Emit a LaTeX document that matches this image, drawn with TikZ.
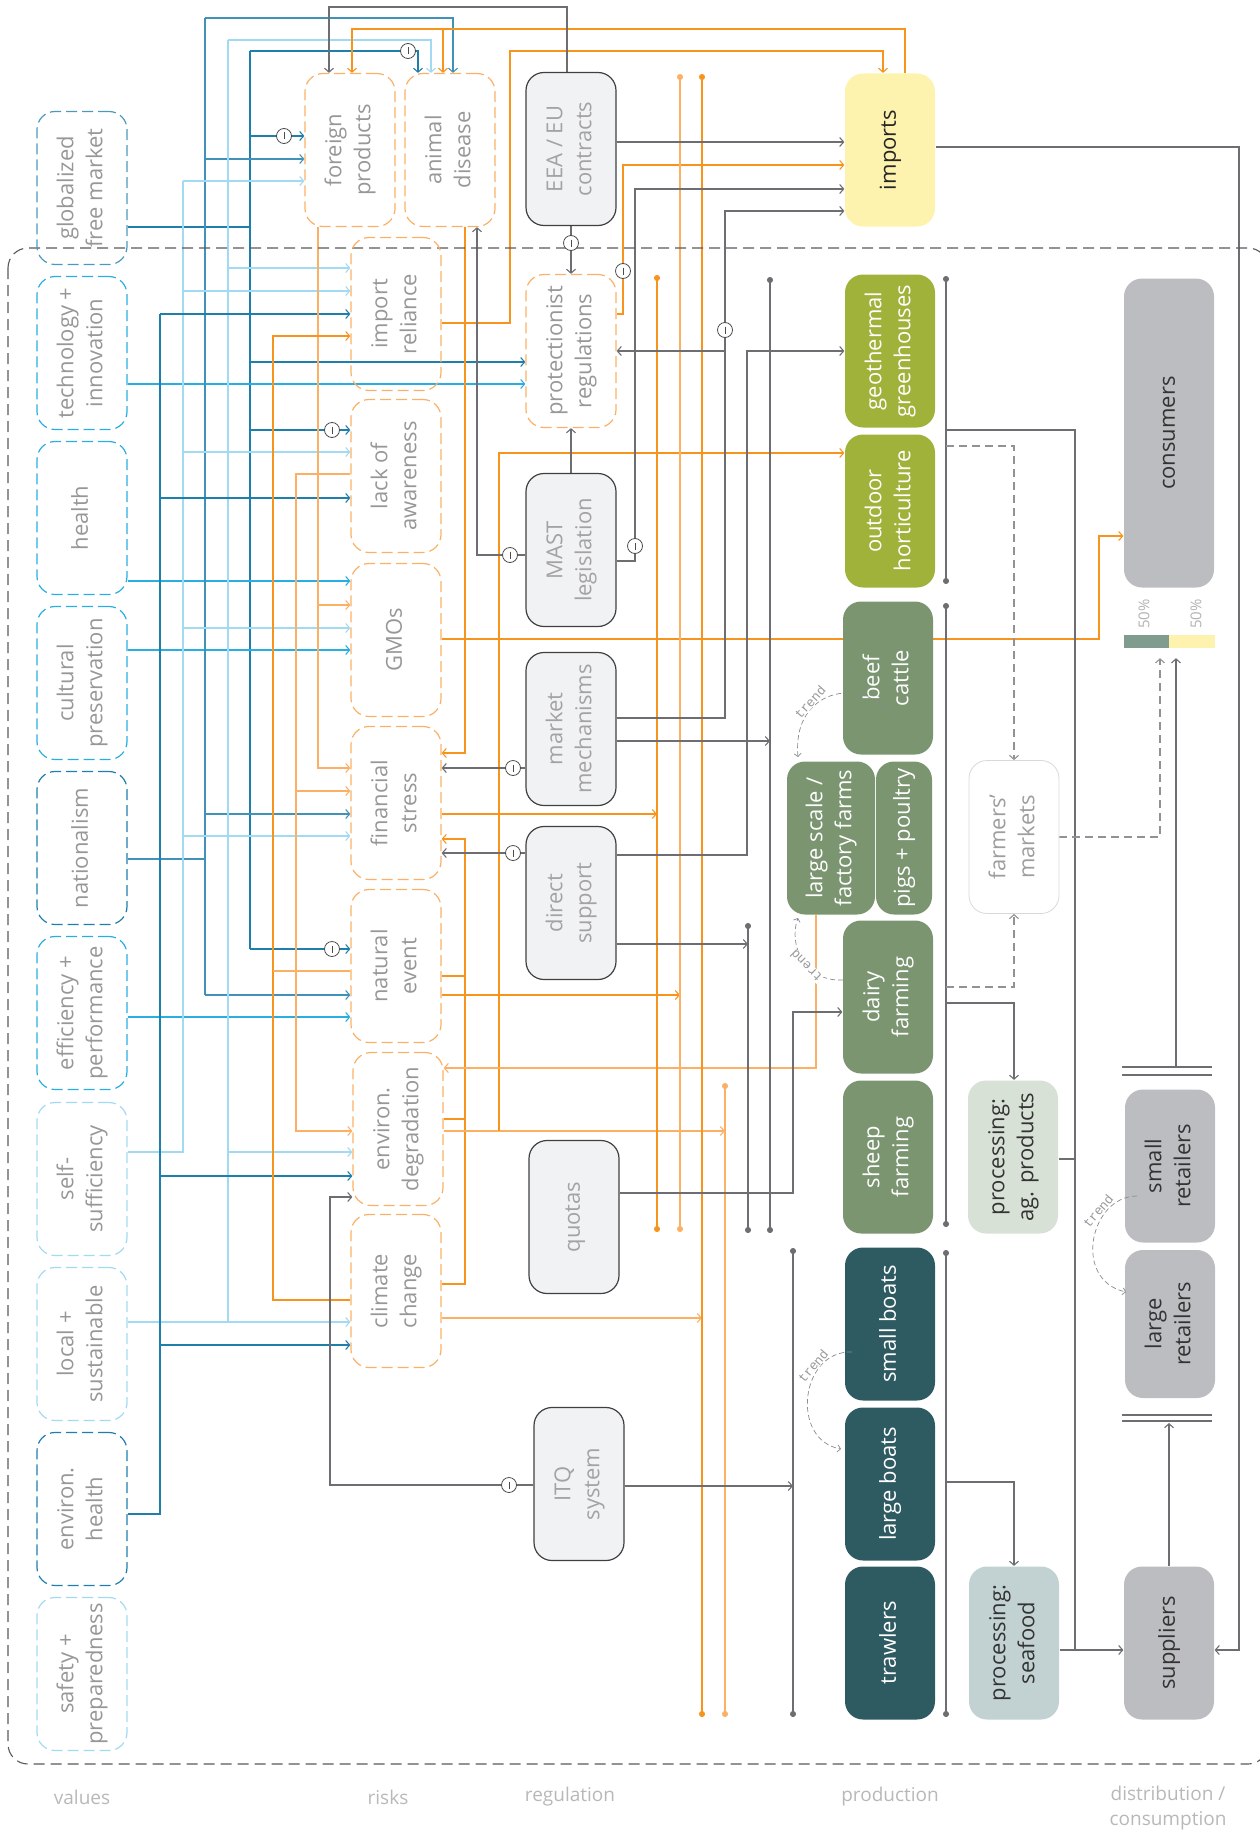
\documentclass[tikz,border=0pt]{standalone}
\usepackage{fontspec}
\setmainfont{Open Sans}
\newfontfamily\trendfont{Liberation Mono}
\usepackage{graphicx}
\usepackage{tikz}
\usetikzlibrary{arrows.meta,positioning}

\definecolor{dblue}{HTML}{1F7FAB}
\definecolor{cblue}{HTML}{29AEE3}
\definecolor{lblue}{HTML}{A3DAF3}
\definecolor{orng}{HTML}{F7941D}
\definecolor{lorng}{HTML}{FBB066}
\definecolor{lgray}{HTML}{6D6E71}
\definecolor{txtgray}{HTML}{979797}
\definecolor{regfill}{HTML}{F1F2F3}
\definecolor{olive}{HTML}{A0B23A}
\definecolor{sage}{HTML}{7A9570}
\definecolor{fish}{HTML}{2E5A62}
\definecolor{procag}{HTML}{D8E1D6}
\definecolor{procsea}{HTML}{C2D1D1}
\definecolor{distgray}{HTML}{BCBDC0}
\definecolor{impyel}{HTML}{FDF2AE}
\definecolor{barsage}{HTML}{809C8F}

\pgfdeclarelayer{back}
\pgfsetlayers{back,main}

\newcommand{\vt}[1]{\rotatebox{90}{\begin{tabular}{@{}c@{}}#1\end{tabular}}}

\begin{document}
\begin{tikzpicture}[x=1pt, y=-1pt,
  cbox/.style={rounded corners=18pt, minimum width=90pt, minimum height=153pt,
    inner sep=0pt, line width=1.2pt, font=\fontsize{22}{29}\selectfont},
  valbox/.style={cbox, draw=#1, dash pattern=on 11pt off 5pt, text=txtgray},
  riskbox/.style={cbox, draw=lorng, dash pattern=on 11pt off 5pt, text=txtgray},
  regbox/.style={cbox, draw=black!75, fill=regfill, text=black!36},
  prodbox/.style={cbox, draw=none, fill=#1, text=white},
  distbox/.style={cbox, draw=none, fill=#1, text=black!80},
  wire/.style={line width=1.1pt},
  link/.style={line width=1.1pt, -{Straight Barb[length=4pt,width=9pt]}},
  busline/.style={line width=1.1pt, {Circle[length=6pt]}-{Circle[length=6pt]}},
  dlink/.style={link, lgray!75, dash pattern=on 8pt off 5pt},
  minus/.style={circle, draw=black!70, fill=white, line width=0.8pt, minimum size=15pt,
    inner sep=0pt, path picture={\draw[black!70, line width=0.8pt]
      ([yshift=-4pt]path picture bounding box.north) -- ([yshift=4pt]path picture bounding box.south);}},
  trend/.style={lgray!80, line width=0.7pt, dash pattern=on 5pt off 3pt,
    -{Straight Barb[length=3pt,width=7pt]}},
  trendtxt/.style={font=\trendfont\fontsize{13}{13}\selectfont, text=black!40, fill=white, inner sep=0.5pt},
  pct/.style={font=\fontsize{15}{15}\selectfont, text=black!30, inner sep=0pt},
  collabel/.style={font=\fontsize{19}{25}\selectfont, text=black!28, align=center, inner sep=0pt}
]
\useasboundingbox (0,0) rectangle (1260,1833);

% outer boundary
\draw[black!65, line width=1.1pt, dash pattern=on 11pt off 6pt, rounded corners=20pt]
  (8,248) rectangle (1268,1764);

% values
\node[valbox=dblue!80] (glob) at (82,188) {\vt{globalized\\free market}};
\node[valbox=cblue] (tech) at (82,353) {\vt{technology +\\innovation}};
\node[valbox=cblue] (hlth) at (82,518) {\vt{health}};
\node[valbox=cblue] (cult) at (82,683) {\vt{cultural\\preservation}};
\node[valbox=dblue] (nat) at (82,848) {\vt{nationalism}};
\node[valbox=cblue] (eff) at (82,1013) {\vt{efficiency +\\performance}};
\node[valbox=lblue] (self) at (82,1179) {\vt{self-\\sufficiency}};
\node[valbox=lblue] (local) at (82,1344) {\vt{local +\\sustainable}};
\node[valbox=dblue] (envh) at (82,1509) {\vt{environ.\\health}};
\node[valbox=lblue] (safe) at (82,1674) {\vt{safety +\\preparedness}};

% risks
\node[riskbox] (fp) at (350,150) {\vt{foreign\\products}};
\node[riskbox] (ad) at (450,150) {\vt{animal\\disease}};
\node[riskbox] (ir) at (396,314) {\vt{import\\reliance}};
\node[riskbox] (loa) at (396,476) {\vt{lack of\\awareness}};
\node[riskbox] (gmo) at (396,640) {\vt{GMOs}};
\node[riskbox] (fs) at (396,803) {\vt{financial\\stress}};
\node[riskbox] (ne) at (396,966) {\vt{natural\\event}};
\node[riskbox] (ed) at (398,1129) {\vt{environ.\\degradation}};
\node[riskbox] (cc) at (396,1291) {\vt{climate\\change}};

% regulation
\node[regbox] (eea) at (571,149) {\vt{EEA / EU\\contracts}};
\node[riskbox] (pr) at (571,351) {\vt{protectionist\\regulations}};
\node[regbox] (mast) at (571,550) {\vt{MAST\\legislation}};
\node[regbox] (mm) at (571,729) {\vt{market\\mechanisms}};
\node[regbox] (ds) at (571,903) {\vt{direct\\support}};
\node[regbox] (quo) at (574,1217) {\vt{quotas}};
\node[regbox] (itq) at (579,1484) {\vt{ITQ\\system}};

% production
\node[prodbox=impyel, text=black!85] (imp) at (890,150) {\vt{imports}};
\node[prodbox=olive] (geo) at (890,351) {\vt{geothermal\\greenhouses}};
\node[prodbox=olive] (hort) at (890,511) {\vt{outdoor\\horticulture}};
\node[prodbox=sage] (beef) at (888,678) {\vt{beef\\cattle}};
\node[prodbox=sage, minimum width=88pt] (fac) at (831,838) {\vt{large scale /\\factory farms}};
\node[prodbox=sage, minimum width=56pt] (pig) at (904,838) {\vt{pigs + poultry}};
\node[prodbox=sage] (dairy) at (888,997) {\vt{dairy\\farming}};
\node[prodbox=sage] (sheep) at (888,1157) {\vt{sheep\\farming}};
\node[prodbox=fish] (sb) at (890,1324) {\vt{small boats}};
\node[prodbox=fish] (lb) at (890,1484) {\vt{large boats}};
\node[prodbox=fish] (trawl) at (890,1643) {\vt{trawlers}};

% processing
\node[distbox=white, draw=black!15, line width=0.8pt, text=black!38] (fm) at (1014,837) {\vt{farmers’\\markets}};
\node[distbox=procag] (pag) at (1013,1157) {\vt{processing:\\ag. products}};
\node[distbox=procsea] (psea) at (1014,1643) {\vt{processing:\\seafood}};

% distribution / consumption
\node[distbox=distgray, minimum height=309pt] (cons) at (1169,433) {\vt{consumers}};
\node[fill=barsage, minimum width=45pt, minimum height=13pt, inner sep=0pt] (barl) at (1146.5,641.5) {};
\node[fill=impyel, minimum width=46pt, minimum height=13pt, inner sep=0pt] (barr) at (1192,641.5) {};
\node[pct] (pl) at (1144,614) {\rotatebox{90}{50\%}};
\node[pct] (pr2) at (1196,614) {\rotatebox{90}{50\%}};
\node[distbox=distgray] (sr) at (1170,1166) {\vt{small\\retailers}};
\node[distbox=distgray, minimum height=148pt] (lr) at (1170,1324) {\vt{large\\retailers}};
\node[distbox=distgray] (sup) at (1169,1643) {\vt{suppliers}};

% column labels
\node[collabel] (lval) at (82,1797) {values};
\node[collabel] (lrisk) at (388,1797) {risks};
\node[collabel] (lreg) at (570,1797) {regulation};
\node[collabel] (lprod) at (890,1797) {production};
\node[collabel] (ldist) at (1168,1808) {distribution /\\consumption};

\begin{pgfonlayer}{back}
% globalized free market
\draw[wire,dblue] (glob.east |- 0,227) -- (250,227);
\draw[wire,dblue] (250,51) -- (250,949);
\draw[link,dblue] (250,51) -| (ad.north -| 418,0);
\foreach \yy/\tgt in {136/fp,362/pr,430/loa,949/ne}
  \draw[link,dblue] (250,\yy) -- (\tgt.west |- 0,\yy);
% technology, health, cultural, efficiency
\draw[link,cblue] (tech.east |- 0,384) -- (pr.west |- 0,384);
\draw[link,cblue] (hlth.east |- 0,581) -- (gmo.west |- 0,581);
\draw[link,cblue] (cult.east |- 0,650) -- (gmo.west |- 0,650);
\draw[link,cblue] (eff.east |- 0,1017) -- (ne.west |- 0,1017);
% nationalism
\draw[wire,dblue!85] (nat.east |- 0,859) -- (205,859);
\draw[wire,dblue!85] (205,18) -- (205,995);
\draw[link,dblue!85] (205,18) -| (ad.north -| 453,0);
\foreach \yy/\tgt in {159/fp,814/fs,995/ne}
  \draw[link,dblue!85] (205,\yy) -- (\tgt.west |- 0,\yy);
% self-sufficiency
\draw[wire,lblue] (self.east |- 0,1152) -| (183,181);
\foreach \yy/\tgt in {181/fp,291/ir,452/loa,628/gmo,836/fs}
  \draw[link,lblue] (183,\yy) -- (\tgt.west |- 0,\yy);
% local + sustainable
\draw[link,lblue] (local.east |- 0,1322) -- (cc.west |- 0,1322);
\draw[wire,lblue] (228,40) -- (228,1322);
\draw[link,lblue] (228,40) -| (ad.north -| 431,0);
\foreach \yy/\tgt in {268/ir,1152/ed}
  \draw[link,lblue] (228,\yy) -- (\tgt.west |- 0,\yy);
% environ. health
\draw[wire,dblue] (envh.east |- 0,1514) -| (160,314);
\foreach \yy/\tgt in {314/ir,498/loa,1176/ed,1345/cc}
  \draw[link,dblue] (160,\yy) -- (\tgt.west |- 0,\yy);

% risks
\draw[link,lorng] (fp.south -| 318,0) |- (fs.west |- 0,768);
\draw[link,lorng] (318,605) -- (gmo.west |- 0,605);
\draw[link,orng] (cc.west |- 0,1300) -| (273,336) -- (ir.west |- 0,336);
\draw[wire,lorng] (ne.west |- 0,971) -- (273,971);
\draw[link,lorng] (loa.west |- 0,474) -| (296,1131) -- (ed.west |- 0,1131);
\draw[link,lorng] (296,791) -- (fs.west |- 0,791);
\draw[link,orng] (ad.south -| 465,0) |- (fs.east |- 0,753);
\draw[link,orng] (cc.east |- 0,1284) -| (465,839) -- (fs.east |- 0,839);
\draw[wire,orng] (ne.east |- 0,976) -- (465,976);
\draw[wire,orng] (ed.east |- 0,1119) -- (465,1119);
\draw[link,orng] (ir.east |- 0,323) -| (510,51) -| (imp.north -| 883,0);
\draw[link,orng] (imp.north -| 905,0) |- (352,29) -- (fp.north -| 352,0);
\draw[link,orng] (443,29) -- (ad.north -| 443,0);
\draw[link,orng] (pr.east |- 0,314) -| (623,165) -- (imp.west |- 0,165);
\draw[link,orng] (gmo.east |- 0,639) -| (1099,536) -- (cons.west |- 0,536);
\draw[link,orng] (fs.east |- 0,814) -- (657,814);
\draw[link,orng] (ne.east |- 0,995) -- (680,995);
\draw[link,lorng] (ed.east |- 0,1131) -- (725,1131);
\draw[link,orng] (499,1131) |- (hort.west |- 0,453);
\draw[link,lorng] (cc.east |- 0,1318) -- (702,1318);
\draw[link,lorng] (fac.south -| 816,0) |- (ed.east |- 0,1068);
\draw[busline,orng] (657,275) -- (657,1232);
\draw[busline,lorng] (680,74) -- (680,1232);
\draw[busline,orng] (702,74) -- (702,1717);
\draw[busline,lorng] (725,1083) -- (725,1717);

% regulation
\draw[link,lgray] (eea.north -| 567,0) |- (329,7) -- (fp.north -| 329,0);
\draw[link,lgray] (eea.south) -- (pr.north);
\draw[link,lgray] (eea.east |- 0,142) -- (imp.west |- 0,142);
\draw[link,lgray] (mast.north) -- (pr.south);
\draw[link,lgray] (mast.west |- 0,555) -| (ad.south -| 477,0);
\draw[link,lgray] (mast.east |- 0,561) -| (635,189) -- (imp.west |- 0,189);
\draw[link,lgray] (mm.east |- 0,718) -| (725,211) -- (imp.west |- 0,211);
\draw[link,lgray] (725,351) -- (pr.east |- 0,351);
\draw[link,lgray] (mm.east |- 0,741) -- (770,741);
\draw[link,lgray] (mm.west |- 0,768) -- (fs.east |- 0,768);
\draw[link,lgray] (ds.west |- 0,853) -- (fs.east |- 0,853);
\draw[link,lgray] (ds.east |- 0,855) -| (747,351) -- (geo.west |- 0,351);
\draw[link,lgray] (ds.east |- 0,944) -- (748,944);
\draw[link,lgray] (quo.east |- 0,1193) -| (793,1012) -- (dairy.west |- 0,1012);
\draw[link,lgray] (itq.east |- 0,1486) -- (793,1486);
\draw[link,lgray] (itq.west |- 0,1485) -| (330,1197) -- (ed.west |- 0,1197);
\draw[busline,lgray] (770,277) -- (770,1233);
\draw[busline,lgray] (748,923) -- (748,1233);
\draw[busline,lgray] (793,1248) -- (793,1717);

% production
\draw[busline,lgray] (946,276) -- (946,584);
\draw[busline,lgray] (946,603) -- (946,1227);
\draw[busline,lgray] (946,1250) -- (946,1717);
\draw[link,lgray] (946,430) -| (1075,1650) -- (sup.west |- 0,1650);
\draw[dlink] (946,446) -| (fm.north -| 1014,0);
\draw[dlink] (946,987) -| (fm.south -| 1014,0);
\draw[link,lgray] (946,1003) -| (pag.north -| 1014,0);
\draw[wire,lgray] (pag.east |- 0,1159) -- (1075,1159);
\draw[link,lgray] (946,1482) -| (psea.north -| 1014,0);
\draw[wire,lgray] (psea.east |- 0,1650) -- (1075,1650);

% distribution
\draw[dlink] (fm.east |- 0,837) -| ([yshift=-10pt]barl.south -| 1160,0);
\draw[link,lgray] (1176,1067) -- ([yshift=-10pt]barr.south -| 1176,0);
\draw[link,lgray] (sup.north -| 1169,0) -- (1169,1423);
\draw[link,lgray] (imp.east |- 0,147) -| (1239,1650) -- (sup.east |- 0,1650);
\draw[wire,lgray] (1122,1067) -- (1212,1067) (1122,1075) -- (1212,1075);
\draw[wire,lgray] (1122,1415) -- (1212,1415) (1122,1421) -- (1212,1421);
\end{pgfonlayer}

% negative influences
\node[minus] (m1) at (408,51) {};
\node[minus] (m2) at (284,136) {};
\node[minus] (m3) at (332,430) {};
\node[minus] (m4) at (332,949) {};
\node[minus] (m5) at (623,271) {};
\node[minus] (m6) at (571,243) {};
\node[minus] (m7) at (510,555) {};
\node[minus] (m8) at (635,546) {};
\node[minus] (m9) at (725,330) {};
\node[minus] (m10) at (513,768) {};
\node[minus] (m11) at (513,853) {};
\node[minus] (m12) at (509,1485) {};

% trends
\draw[trend] (885,708) .. controls (855,678) and (792,692) .. (798,757);
\node[trendtxt, rotate=48] (t1) at (810,702) {trend};
\draw[trend] (843,980) .. controls (805,982) and (788,945) .. (798,918);
\node[trendtxt, rotate=135] (t2) at (806,966) {trend};
\draw[trend] (852,1352) .. controls (800,1350) and (790,1440) .. (841,1449);
\node[trendtxt, rotate=50] (t3) at (813,1366) {trend};
\draw[trend] (1137,1196) .. controls (1090,1196) and (1072,1280) .. (1126,1292);
\node[trendtxt, rotate=50] (t4) at (1098,1211) {trend};
\end{tikzpicture}
\end{document}
